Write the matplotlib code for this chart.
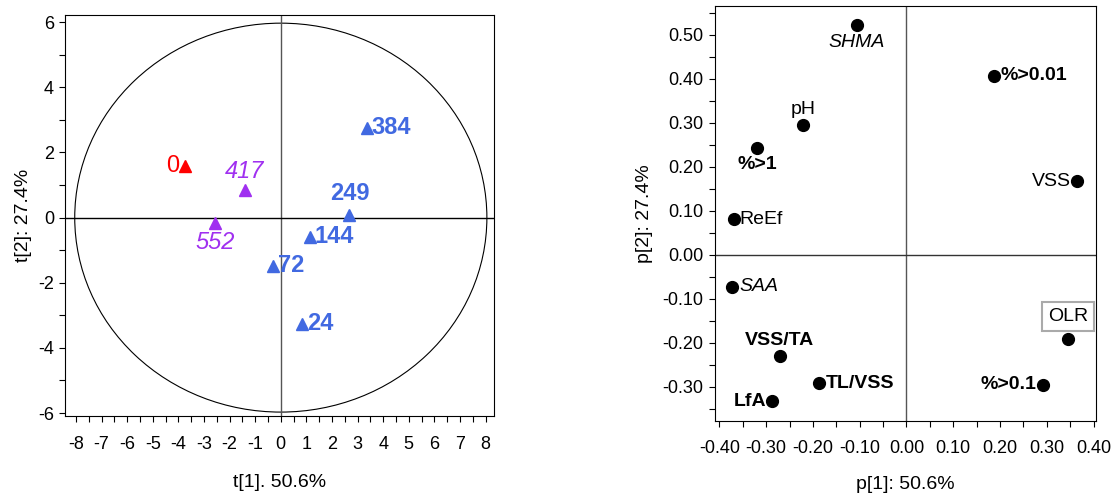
import matplotlib
matplotlib.use("Agg")
import matplotlib.pyplot as plt
from matplotlib.patches import Ellipse
from matplotlib.ticker import MultipleLocator, FormatStrFormatter

plt.rcParams['font.family'] = ['Liberation Sans', 'DejaVu Sans']
plt.rcParams['axes.unicode_minus'] = False

# score plot (t1, t2)
score_labels = ['0', '417', '552', '384', '249', '144', '72', '24']
score_t1 = [-3.74, -1.40, -2.57, 3.35, 2.68, 1.13, -0.32, 0.84]
score_t2 = [1.58, 0.84, -0.16, 2.76, 0.07, -0.59, -1.48, -3.26]
score_group = ['red', 'purple', 'purple', 'blue', 'blue', 'blue', 'blue', 'blue']
ellipse_a, ellipse_b = 8.05, 5.97

# loading plot (p1, p2)
load_labels = ['SHMA', '%>0.01', 'pH', '%>1', 'VSS', 'ReEf', 'SAA', 'OLR',
               'VSS/TA', 'TL/VSS', '%>0.1', 'LfA']
load_p1 = [-0.106, 0.187, -0.221, -0.319, 0.365, -0.369, -0.373, 0.346,
           -0.271, -0.187, 0.292, -0.287]
load_p2 = [0.522, 0.406, 0.295, 0.242, 0.167, 0.080, -0.073, -0.191,
           -0.231, -0.292, -0.296, -0.333]

colors = {'red': '#ff0000', 'purple': '#a030f0', 'blue': '#4169e1'}
score_style = {'red': ('normal', 'normal'), 'purple': ('italic', 'normal'),
               'blue': ('normal', 'bold')}
# label placement: (ha, va, dx, dy) in pixels
score_pos = {'0': ('right', 'center', -6, 0), '417': ('center', 'bottom', 0, 7),
             '552': ('center', 'top', 0, -8), '384': ('left', 'center', 5, 0),
             '249': ('center', 'bottom', 0, 10), '144': ('left', 'center', 5, 0),
             '72': ('left', 'center', 5, 0), '24': ('left', 'center', 5, 0)}

load_style = {'SHMA': ('italic', 'normal'), 'SAA': ('italic', 'normal'),
              'pH': ('normal', 'normal'), 'ReEf': ('normal', 'normal'),
              'VSS': ('normal', 'normal'), 'OLR': ('normal', 'normal')}
load_pos = {'SHMA': ('center', 'top', 0, -9), '%>0.01': ('left', 'center', 7, 0),
            'pH': ('center', 'bottom', 0, 7), '%>1': ('center', 'top', 0, -8),
            'VSS': ('right', 'center', -6, 0), 'ReEf': ('left', 'center', 6, 0),
            'SAA': ('left', 'center', 7, 0), 'OLR': ('center', 'bottom', 0, 14),
            'VSS/TA': ('center', 'bottom', 0, 7), 'TL/VSS': ('left', 'center', 7, 0),
            '%>0.1': ('right', 'center', -7, 0), 'LfA': ('right', 'center', -6, 0)}

fig = plt.figure(figsize=(11.17, 4.94), dpi=100)

# ---- left: scores ----
ax1 = fig.add_axes([0.0582, 0.1579, 0.3841, 0.8117])
ax1.add_patch(Ellipse((0, 0), 2 * ellipse_a, 2 * ellipse_b, fill=False,
                      edgecolor='black', lw=0.8))
ax1.axvline(0, color='#555555', lw=1)
ax1.axhline(0, color='black', lw=1)
for lab, x, y, g in zip(score_labels, score_t1, score_t2, score_group):
    ax1.plot(x, y, marker='^', color=colors[g], ms=8, ls='none')
    ha, va, dx, dy = score_pos[lab]
    st, wt = score_style[g]
    ax1.annotate(lab, (x, y), xytext=(dx, dy), textcoords='offset pixels',
                 ha=ha, va=va, color=colors[g], fontsize=17, style=st, weight=wt)
ax1.set_xlim(-8.43, 8.33)
ax1.set_ylim(-6.09, 6.22)
ax1.xaxis.set_major_locator(MultipleLocator(1))
ax1.xaxis.set_minor_locator(MultipleLocator(0.5))
ax1.yaxis.set_major_locator(MultipleLocator(2))
ax1.yaxis.set_minor_locator(MultipleLocator(1))
ax1.tick_params(which='both', direction='out', length=4.5, width=0.8, labelsize=13)
ax1.tick_params(axis='x', pad=10)
ax1.set_xlabel('t[1]. 50.6%', fontsize=14, labelpad=15)
ax1.set_ylabel('t[2]: 27.4%', fontsize=14, labelpad=4)

# ---- right: loadings ----
ax2 = fig.add_axes([0.6398, 0.1478, 0.3414, 0.8401])
ax2.axvline(0, color='#555555', lw=1)
ax2.axhline(0, color='#333333', lw=1)
ax2.plot(load_p1, load_p2, 'o', color='black', ms=8.5)
for lab, x, y in zip(load_labels, load_p1, load_p2):
    ha, va, dx, dy = load_pos[lab]
    st, wt = load_style.get(lab, ('normal', 'bold'))
    kw = {}
    if lab == 'OLR':
        kw['bbox'] = dict(boxstyle='square,pad=0.3', fc='white', ec='#aaaaaa', lw=1.5)
    ax2.annotate(lab, (x, y), xytext=(dx, dy), textcoords='offset pixels',
                 ha=ha, va=va, color='black', fontsize=14, style=st, weight=wt, **kw)
ax2.set_xlim(-0.41, 0.405)
ax2.set_ylim(-0.378, 0.565)
ax2.xaxis.set_major_locator(MultipleLocator(0.1))
ax2.xaxis.set_minor_locator(MultipleLocator(0.05))
ax2.yaxis.set_major_locator(MultipleLocator(0.1))
ax2.yaxis.set_minor_locator(MultipleLocator(0.05))
ax2.xaxis.set_major_formatter(FormatStrFormatter('%.2f'))
ax2.yaxis.set_major_formatter(FormatStrFormatter('%.2f'))
ax2.tick_params(which='both', direction='out', length=4.5, width=0.8, labelsize=13)
ax2.tick_params(axis='x', pad=9)
ax2.set_xlabel('p[1]: 50.6%', fontsize=14, labelpad=14)
ax2.set_ylabel('p[2]: 27.4%', fontsize=14, labelpad=7)

fig.savefig('out.png', dpi=100)
